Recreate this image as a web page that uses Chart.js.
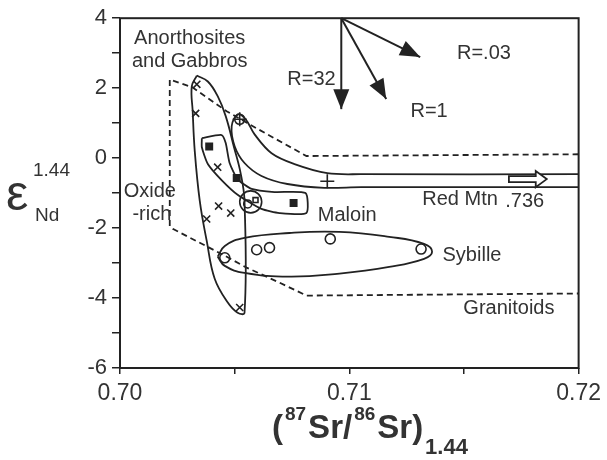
<!DOCTYPE html>
<html>
<head>
<meta charset="utf-8">
<script src="https://cdn.jsdelivr.net/npm/chart.js@4"></script>
<style>
  body { margin: 0; background: #fff; }
  #wrap { width: 607px; height: 460px; }
</style>
</head>
<body>
<div id="wrap"><canvas id="srnd" width="607" height="460"></canvas></div>
<script>
// values, [87Sr/86Sr, eNd]
const anorthositeMarks = [[0.70335, 2.11], [0.7033, 1.28], [0.70426, -0.26], [0.7043, -1.37], [0.70483, -1.57], [0.70378, -1.74], [0.70522, -4.27]];
const oxideMarks = [[0.70389, 0.33], [0.70509, -0.57], [0.70757, -1.28]];
const sybilleMarks = [[0.70457, -2.85], [0.70596, -2.62], [0.70652, -2.56], [0.70917, -2.31], [0.71313, -2.6]];
const redMtnMarks = [[0.70904, -0.66], [0.70522, 1.11]];
const ringMark = [[0.7057, -1.25]];
const ringInner = [[0.70557, -1.31]];
const ringSquare = [[0.70591, -1.2]];

const anorthositeField = [[0.70335, 2.36], [0.70383, 2.19], [0.70426, 1.77], [0.70461, 1.2], [0.70496, 0.34], [0.70526, -0.43], [0.70543, -1.23], [0.70543, -4.42], [0.70513, -4.42], [0.7047, -4.13], [0.70413, -3.45], [0.70378, -2.36], [0.70348, -1.23], [0.70326, 0.2], [0.70317, 1.34], [0.70313, 2.05], [0.70335, 2.36]];
const oxideField = [[0.70357, 0.57], [0.70443, 0.66], [0.70461, 0.43], [0.70478, -0.14], [0.70513, -0.6], [0.70574, -0.88], [0.70674, -0.97], [0.70809, -1.0], [0.70813, -1.57], [0.70696, -1.57], [0.70617, -1.45], [0.70513, -1.05], [0.70443, -0.63], [0.70383, -0.17], [0.70357, 0.31], [0.70357, 0.57]];
const redMtnBand = [[0.72, -0.83], [0.71052, -0.83], [0.70891, -0.85], [0.7073, -0.74], [0.70617, -0.51], [0.70543, -0.14], [0.705, 0.34], [0.70487, 0.91], [0.70513, 1.25], [0.70548, 1.11], [0.70587, 0.68], [0.70661, 0.14], [0.70761, -0.17], [0.70904, -0.43], [0.71052, -0.46], [0.72, -0.46]];
const sybilleField = [[0.70426, -2.82], [0.70457, -2.51], [0.70543, -2.28], [0.70739, -2.14], [0.70957, -2.11], [0.71174, -2.25], [0.71326, -2.45], [0.71361, -2.68], [0.71326, -2.88], [0.71174, -3.11], [0.70957, -3.3], [0.70739, -3.39], [0.70543, -3.28], [0.70457, -3.08], [0.70426, -2.82]];
const granitoidEnvelope = [[0.72, 0.11], [0.70813, 0.06], [0.70596, 0.85], [0.70465, 1.34], [0.70317, 2.02], [0.70217, 2.25], [0.70217, -1.94], [0.7023, -2.02], [0.70457, -2.79], [0.70552, -3.13], [0.70696, -3.56], [0.70813, -3.93], [0.72, -3.87]];

const mixOrigin = [0.70965, 4.0];
const mixTips = [[0.70965, 1.4], [0.71161, 1.69], [0.71309, 2.89]];
const redMtnArrow = [[0.71696, -0.6], [0.71861, -0.6]];

const xTicks = [0.70, 0.71, 0.72];
const yTicks = [-6, -4, -2, 0, 2, 4];

const fieldLabels = [
  ["Anorthosites", 0.70304, 3.42],
  ["and Gabbros", 0.70304, 2.76],
  ["R=32", 0.70835, 2.25],
  ["R=1", 0.71348, 1.34],
  ["R=.03", 0.71587, 2.99],
  ["Oxide", 0.7013, -0.94],
  ["-rich", 0.70139, -1.6],
  ["Red Mtn", 0.71483, -1.17],
  [".736", 0.71765, -1.25],
  ["Maloin", 0.70991, -1.65],
  ["Sybille", 0.71535, -2.79],
  ["Granitoids", 0.71696, -4.3]
];

const ink = "#222";
const textInk = "#333";
const fontFam = '"Liberation Sans", Arial, Helvetica, sans-serif';

const toXY = (arr) => arr.map(([x, y]) => ({ x, y }));

function outline(pts, tension, dash) {
  return {
    data: toXY(pts),
    showLine: true,
    borderColor: ink,
    borderWidth: 1.8,
    borderDash: dash || [],
    tension: tension,
    pointRadius: 0,
    fill: false,
  };
}

function marks(pts, style, radius, filled) {
  return {
    data: toXY(pts),
    pointStyle: style,
    pointRadius: radius,
    pointBorderColor: ink,
    pointBorderWidth: 1.6,
    pointBackgroundColor: filled ? ink : "rgba(255,255,255,0)",
    showLine: false,
  };
}

function arrowHead(ctx, x0, y0, x1, y1, len, half) {
  const a = Math.atan2(y1 - y0, x1 - x0);
  ctx.beginPath();
  ctx.moveTo(x1, y1);
  ctx.lineTo(x1 - len * Math.cos(a) + half * Math.sin(a), y1 - len * Math.sin(a) - half * Math.cos(a));
  ctx.lineTo(x1 - len * Math.cos(a) - half * Math.sin(a), y1 - len * Math.sin(a) + half * Math.cos(a));
  ctx.closePath();
  ctx.fill();
}

const decorations = {
  id: "decorations",
  afterDatasetsDraw(chart) {
    const { ctx, chartArea } = chart;
    const xs = chart.scales.x;
    const ys = chart.scales.y;
    ctx.save();

    // frame
    ctx.strokeStyle = ink;
    ctx.lineWidth = 2;
    ctx.strokeRect(chartArea.left, chartArea.top, chartArea.right - chartArea.left, chartArea.bottom - chartArea.top);

    // mixing arrows
    ctx.fillStyle = ink;
    ctx.lineWidth = 2;
    const ox = xs.getPixelForValue(mixOrigin[0]);
    const oy = ys.getPixelForValue(mixOrigin[1]);
    mixTips.forEach(([tx, ty]) => {
      const px = xs.getPixelForValue(tx);
      const py = ys.getPixelForValue(ty);
      ctx.beginPath();
      ctx.moveTo(ox, oy);
      ctx.lineTo(px, py);
      ctx.stroke();
      arrowHead(ctx, ox, oy, px, py, 20, 8);
    });

    // hollow Red Mtn arrow
    const ax0 = xs.getPixelForValue(redMtnArrow[0][0]);
    const ax1 = xs.getPixelForValue(redMtnArrow[1][0]);
    const ay = ys.getPixelForValue(redMtnArrow[0][1]);
    const headLen = 11;
    ctx.beginPath();
    ctx.moveTo(ax0, ay - 3);
    ctx.lineTo(ax1 - headLen, ay - 3);
    ctx.lineTo(ax1 - headLen, ay - 8);
    ctx.lineTo(ax1, ay);
    ctx.lineTo(ax1 - headLen, ay + 8);
    ctx.lineTo(ax1 - headLen, ay + 3);
    ctx.lineTo(ax0, ay + 3);
    ctx.closePath();
    ctx.fillStyle = "#fff";
    ctx.fill();
    ctx.lineWidth = 1.8;
    ctx.stroke();

    // field labels
    ctx.fillStyle = textInk;
    ctx.font = "20px " + fontFam;
    ctx.textAlign = "center";
    ctx.textBaseline = "middle";
    fieldLabels.forEach(([t, x, y]) => {
      ctx.fillText(t, xs.getPixelForValue(x), ys.getPixelForValue(y));
    });

    // x axis title: (87Sr/86Sr)1.44
    ctx.textAlign = "left";
    ctx.textBaseline = "alphabetic";
    let cx = chartArea.left + 152;
    const base = chartArea.bottom + 70;
    const parts = [
      ["(", "bold 33px", 0],
      ["87", "bold 19px", -18],
      ["Sr/", "bold 33px", 0],
      ["86", "bold 19px", -18],
      ["Sr)", "bold 33px", 0],
      ["1.44", "bold 22px", 16]
    ];
    parts.forEach(([t, f, dy]) => {
      ctx.font = f + " " + fontFam;
      ctx.fillText(t, cx, base + dy);
      cx += ctx.measureText(t).width + (dy > 0 ? 1 : 2);
    });

    // y axis title: eNd 1.44
    ctx.font = "50px " + fontFam;
    ctx.fillText("\u03b5", 6, 210);
    ctx.font = "19px " + fontFam;
    ctx.fillText("1.44", 33, 176);
    ctx.fillText("Nd", 35, 221);

    ctx.restore();
  }
};

new Chart(document.getElementById("srnd"), {
  type: "scatter",
  data: {
    datasets: [
      outline(granitoidEnvelope, 0, [6, 4]),
      outline(anorthositeField, 0.4),
      outline(oxideField, 0.2),
      outline(redMtnBand, 0.35),
      outline(sybilleField, 0.45),
      marks(anorthositeMarks, "crossRot", 5, false),
      marks(oxideMarks, "rect", 4.5, true),
      marks(sybilleMarks, "circle", 5, false),
      marks(redMtnMarks, "cross", 7, false),
      marks(redMtnMarks.slice(1), "circle", 5, false),
      marks(ringMark, "circle", 11, false),
      marks(ringInner, "circle", 4, false),
      marks(ringSquare, "rect", 3.5, false)
    ]
  },
  options: {
    responsive: false,
    animation: false,
    events: [],
    layout: { padding: { left: 70, right: 27, top: 17, bottom: 52 } },
    scales: {
      x: {
        type: "linear",
        min: 0.70,
        max: 0.72,
        afterFit(scale) { scale.height = 40; },
        ticks: {
          stepSize: 0.005,
          padding: 6,
          color: textInk,
          font: { size: 23, family: fontFam },
          maxRotation: 0,
          autoSkip: false,
          callback: (v) => {
            const hit = xTicks.find((t) => Math.abs(t - v) < 1e-7);
            return hit !== undefined ? hit.toFixed(2) : "";
          }
        },
        grid: { drawOnChartArea: false, tickLength: 6, color: ink, lineWidth: 1.5 },
        border: { display: false }
      },
      y: {
        type: "linear",
        min: -6,
        max: 4,
        afterFit(scale) { scale.width = 50; },
        ticks: {
          stepSize: 1,
          padding: 5,
          color: textInk,
          font: { size: 22, family: fontFam },
          autoSkip: false,
          callback: (v) => (yTicks.includes(v) ? String(v) : "")
        },
        grid: { drawOnChartArea: false, tickLength: 8, color: ink, lineWidth: 1.5 },
        border: { display: false }
      }
    },
    plugins: {
      legend: { display: false },
      tooltip: { enabled: false }
    }
  },
  plugins: [decorations]
});
</script>
</body>
</html>
